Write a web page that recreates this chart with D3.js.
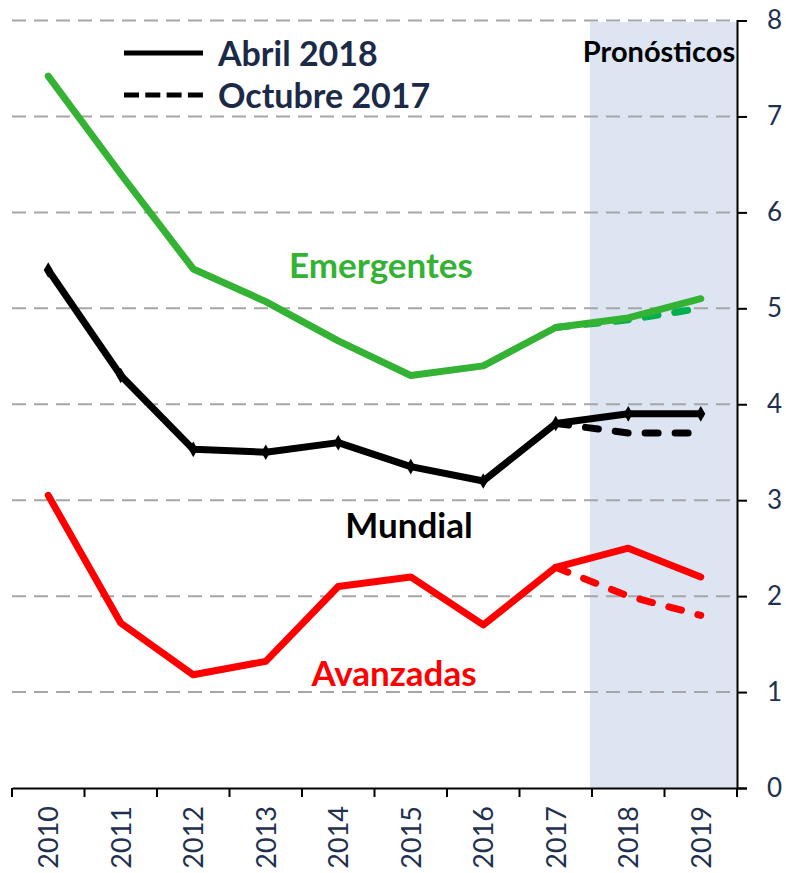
<!DOCTYPE html>
<html>
<head>
<meta charset="utf-8">
<script src="https://cdnjs.cloudflare.com/ajax/libs/d3/7.8.5/d3.min.js"></script>
<style>
  body { margin: 0; background: #fff; }
  svg { display: block; font-family: Lato, "Open Sans", sans-serif; }
</style>
</head>
<body>
<svg id="chart" width="786" height="873"></svg>
<script>
var years = ['2010', '2011', '2012', '2013', '2014', '2015', '2016', '2017', '2018', '2019'];
var forecastYears = ['2017', '2018', '2019'];
var yTicks = [0, 1, 2, 3, 4, 5, 6, 7, 8];

// Abril 2018
var mundial = [5.4, 4.3, 3.53, 3.5, 3.6, 3.35, 3.2, 3.8, 3.9, 3.9];
var emergentes = [7.42, 6.4, 5.41, 5.07, 4.66, 4.3, 4.4, 4.8, 4.9, 5.1];
var avanzadas = [3.05, 1.72, 1.18, 1.32, 2.1, 2.2, 1.7, 2.3, 2.5, 2.2];

// Octubre 2017 (2017-2019)
var mundialOct = [3.8, 3.7, 3.7];
var emergentesOct = [4.8, 4.88, 5.0];
var avanzadasOct = [2.3, 2.0, 1.8];

var svg = d3.select('#chart');
var plotLeft = 12, plotRight = 737, plotTop = 20.5, plotBottom = 788;

var x = d3.scaleBand().domain(years).range([plotLeft, plotRight]);
var y = d3.scaleLinear().domain([0, 8]).range([plotBottom, plotTop]);
var cx = function(yr) { return x(yr) + x.bandwidth() / 2; };

// forecast shading
svg.append('rect')
  .attr('x', x('2018') - 2)
  .attr('y', y(8) + 1.5)
  .attr('width', plotRight - x('2018') + 2)
  .attr('height', y(0) - y(8) - 1.5)
  .attr('fill', '#dde5f2');

// gridlines
svg.append('g').selectAll('line')
  .data(yTicks.filter(function(d) { return d > 0; }))
  .enter().append('line')
  .attr('x1', plotLeft).attr('x2', plotRight)
  .attr('y1', function(d) { return y(d); })
  .attr('y2', function(d) { return y(d); })
  .attr('stroke', '#a6a6a6')
  .attr('stroke-width', 2)
  .attr('stroke-dasharray', '14,8');

// axes
var yAxis = svg.append('g')
  .attr('transform', 'translate(' + plotRight + ',0)')
  .call(d3.axisRight(y).tickValues(yTicks).tickSize(10).tickPadding(20).tickFormat(d3.format('d')));
yAxis.select('.domain').attr('stroke', '#000').attr('stroke-width', 2);
yAxis.selectAll('.tick line').attr('stroke', '#000').attr('stroke-width', 2);
yAxis.selectAll('text')
  .attr('fill', '#1f3050')
  .style('font-size', '26px')
  .style('font-family', 'Lato, sans-serif');

var xAxis = svg.append('g')
  .attr('transform', 'translate(0,' + plotBottom + ')')
  .call(d3.axisBottom(x).tickSize(0).tickPadding(0));
xAxis.select('.domain').attr('stroke', '#000').attr('stroke-width', 2);
xAxis.selectAll('text')
  .attr('fill', '#1f3050')
  .style('font-size', '27px')
  .style('font-family', 'Lato, sans-serif')
  .attr('text-anchor', 'end')
  .attr('transform', 'translate(10,18) rotate(-90)')
  .attr('x', 0).attr('y', 0).attr('dy', 0);

var boundaries = years.map(function(d) { return x(d); }).concat([plotRight]);
svg.append('g').selectAll('line')
  .data(boundaries)
  .enter().append('line')
  .attr('x1', function(d) { return d; })
  .attr('x2', function(d) { return d; })
  .attr('y1', plotBottom).attr('y2', plotBottom + 9)
  .attr('stroke', '#000')
  .attr('stroke-width', 2);

var line = d3.line()
  .x(function(d) { return cx(d[0]); })
  .y(function(d) { return y(d[1]); });

function pairs(cats, vals) {
  return cats.map(function(c, i) { return [c, vals[i]]; });
}

var series = [
  { data: pairs(forecastYears, emergentesOct), color: '#00b050', dash: '13,17' },
  { data: pairs(forecastYears, avanzadasOct), color: '#ff0000', dash: '13,17' },
  { data: pairs(forecastYears, mundialOct), color: '#000000', dash: '13,17' },
  { data: pairs(years, emergentes), color: '#33b233', dash: null },
  { data: pairs(years, avanzadas), color: '#ff0000', dash: null },
  { data: pairs(years, mundial), color: '#000000', dash: null }
];

svg.append('g').selectAll('path')
  .data(series)
  .enter().append('path')
  .attr('d', function(s) { return line(s.data); })
  .attr('fill', 'none')
  .attr('stroke', function(s) { return s.color; })
  .attr('stroke-width', 7)
  .attr('stroke-linejoin', 'round')
  .attr('stroke-linecap', 'round')
  .attr('stroke-dasharray', function(s) { return s.dash; });

// diamond markers on Mundial
svg.append('g').selectAll('path')
  .data(pairs(years, mundial))
  .enter().append('path')
  .attr('d', d3.symbol().type(d3.symbolDiamond).size(70))
  .attr('transform', function(d) { return 'translate(' + cx(d[0]) + ',' + y(d[1]) + ')'; })
  .attr('fill', '#000');

// series labels
var labels = [
  { text: 'Emergentes', x: 381, y: 278, color: '#33b233' },
  { text: 'Mundial', x: 409, y: 538, color: '#000000' },
  { text: 'Avanzadas', x: 394, y: 686, color: '#ff0000' }
];
svg.append('g').selectAll('text')
  .data(labels)
  .enter().append('text')
  .attr('x', function(d) { return d.x; })
  .attr('y', function(d) { return d.y; })
  .attr('text-anchor', 'middle')
  .attr('fill', function(d) { return d.color; })
  .style('font-size', '35px')
  .style('font-weight', 'bold')
  .text(function(d) { return d.text; });

svg.append('text')
  .attr('x', 659).attr('y', 62)
  .attr('text-anchor', 'middle')
  .style('font-size', '29px')
  .style('font-weight', 'bold')
  .attr('fill', '#000')
  .text('Pronósticos');

// legend
var legend = [
  { text: 'Abril 2018', y: 53, dash: null },
  { text: 'Octubre 2017', y: 95, dash: '15,6.3' }
];
var lg = svg.append('g').selectAll('g')
  .data(legend)
  .enter().append('g');
lg.append('line')
  .attr('x1', 124).attr('x2', 203)
  .attr('y1', function(d) { return d.y; })
  .attr('y2', function(d) { return d.y; })
  .attr('stroke', '#000')
  .attr('stroke-width', 5)
  .attr('stroke-dasharray', function(d) { return d.dash; });
lg.append('text')
  .attr('x', 218)
  .attr('y', function(d) { return d.y + 13; })
  .attr('fill', '#1b2a47')
  .style('font-size', '34px')
  .style('font-weight', 'bold')
  .text(function(d) { return d.text; });
</script>
</body>
</html>
